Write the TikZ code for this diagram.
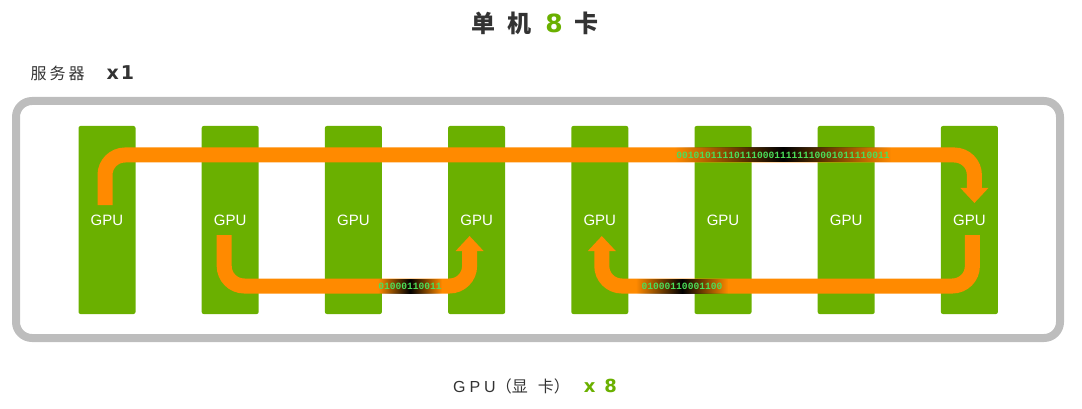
\documentclass[tikz,border=0pt]{standalone}
\usepackage{fontspec}
\setmainfont{Liberation Sans}
\setmonofont{Liberation Mono}
\newfontfamily\cjk{Noto Sans CJK SC}
\newfontfamily\numfont{DejaVu Sans}
\usetikzlibrary{arrows.meta,fadings}
\definecolor{nvgreen}{HTML}{6AB000}
\definecolor{ringorange}{HTML}{FF8A00}
\definecolor{framegray}{HTML}{BDBDBD}
\definecolor{textgray}{HTML}{333333}
\definecolor{bitgreen}{HTML}{4BE05A}
\tikzfading[name=bitfade, left color=transparent!100, right color=transparent!100, middle color=transparent!0]
\begin{document}
\begin{tikzpicture}[x=1pt,y=-1pt,
    gpu/.style={fill=nvgreen, rounded corners=2pt, minimum width=57pt, minimum height=188pt,
        inner sep=0pt, text=white, font=\fontsize{15}{15}\selectfont},
    ring/.style={draw=ringorange, line width=15pt, rounded corners=20pt,
        -{Triangle[width=27pt,length=15pt]}},
    bits/.style={fill=black, path fading=bitfade, text=bitgreen, inner sep=0pt,
        minimum height=15pt, font=\fontsize{9.6}{9.6}\ttfamily\bfseries}]
    \useasboundingbox (0,0) rectangle (1082,409);
    % server frame
    \draw[line width=8pt, draw=framegray, rounded corners=16pt] (16,101) rectangle (1060,338);
    % titles
    \node[text=textgray] (title) at (535,23) {\cjk\bfseries\fontsize{24}{24}\selectfont
        单\hspace{12pt}机\hspace{14pt}\textcolor{nvgreen}{\numfont\fontsize{25}{25}\selectfont 8}\hspace{12pt}卡};
    \node[anchor=west, text=textgray] (server) at (27,73) {\cjk\fontsize{16}{16}\selectfont
        服\hspace{3pt}务\hspace{3pt}器\hspace{22pt}{\numfont\bfseries\fontsize{19}{19}\selectfont x\hspace{2pt}1}};
    \node[text=textgray] (count) at (535,386) {\fontsize{16}{16}\selectfont
        G\hspace{4pt}P\hspace{4pt}U{\cjk （显\hspace{10pt}卡）}\hspace{14pt}%
        \textcolor{nvgreen}{\numfont\bfseries\fontsize{18}{18}\selectfont x\hspace{9pt}8}};
    % GPUs
    \foreach \i in {1,...,8}
        \node[gpu] (g\i) at ({107+123.2*(\i-1)},220) {GPU};
    \coordinate (toprail) at (0,155);
    \coordinate (botrail) at (0,286);
    % rings
    \draw[ring] ([xshift=-2pt,yshift=15pt]g1.center) -- ([xshift=-2pt]g1.center |- toprail)
        -- ([xshift=5pt]g8.center |- toprail) -- ([xshift=5pt,yshift=17pt]g8.center);
    \draw[ring] ([xshift=-6pt,yshift=-15pt]g2.center) -- ([xshift=-6pt]g2.center |- botrail)
        -- ([xshift=-7pt]g4.center |- botrail) -- ([xshift=-7pt,yshift=-16pt]g4.center);
    \draw[ring] ([xshift=3pt,yshift=-15pt]g8.center) -- ([xshift=3pt]g8.center |- botrail)
        -- ([xshift=2pt]g5.center |- botrail) -- ([xshift=2pt,yshift=-16pt]g5.center);
    % data on the rings
    \node[bits, minimum width=216pt] (b1) at (783,155) {0010101111011100011111110001011110011};
    \node[bits, minimum width=62pt] (b2) at (410,286) {01000110011};
    \node[bits, minimum width=92pt] (b3) at (682,286) {01000110001100};
\end{tikzpicture}
\end{document}
